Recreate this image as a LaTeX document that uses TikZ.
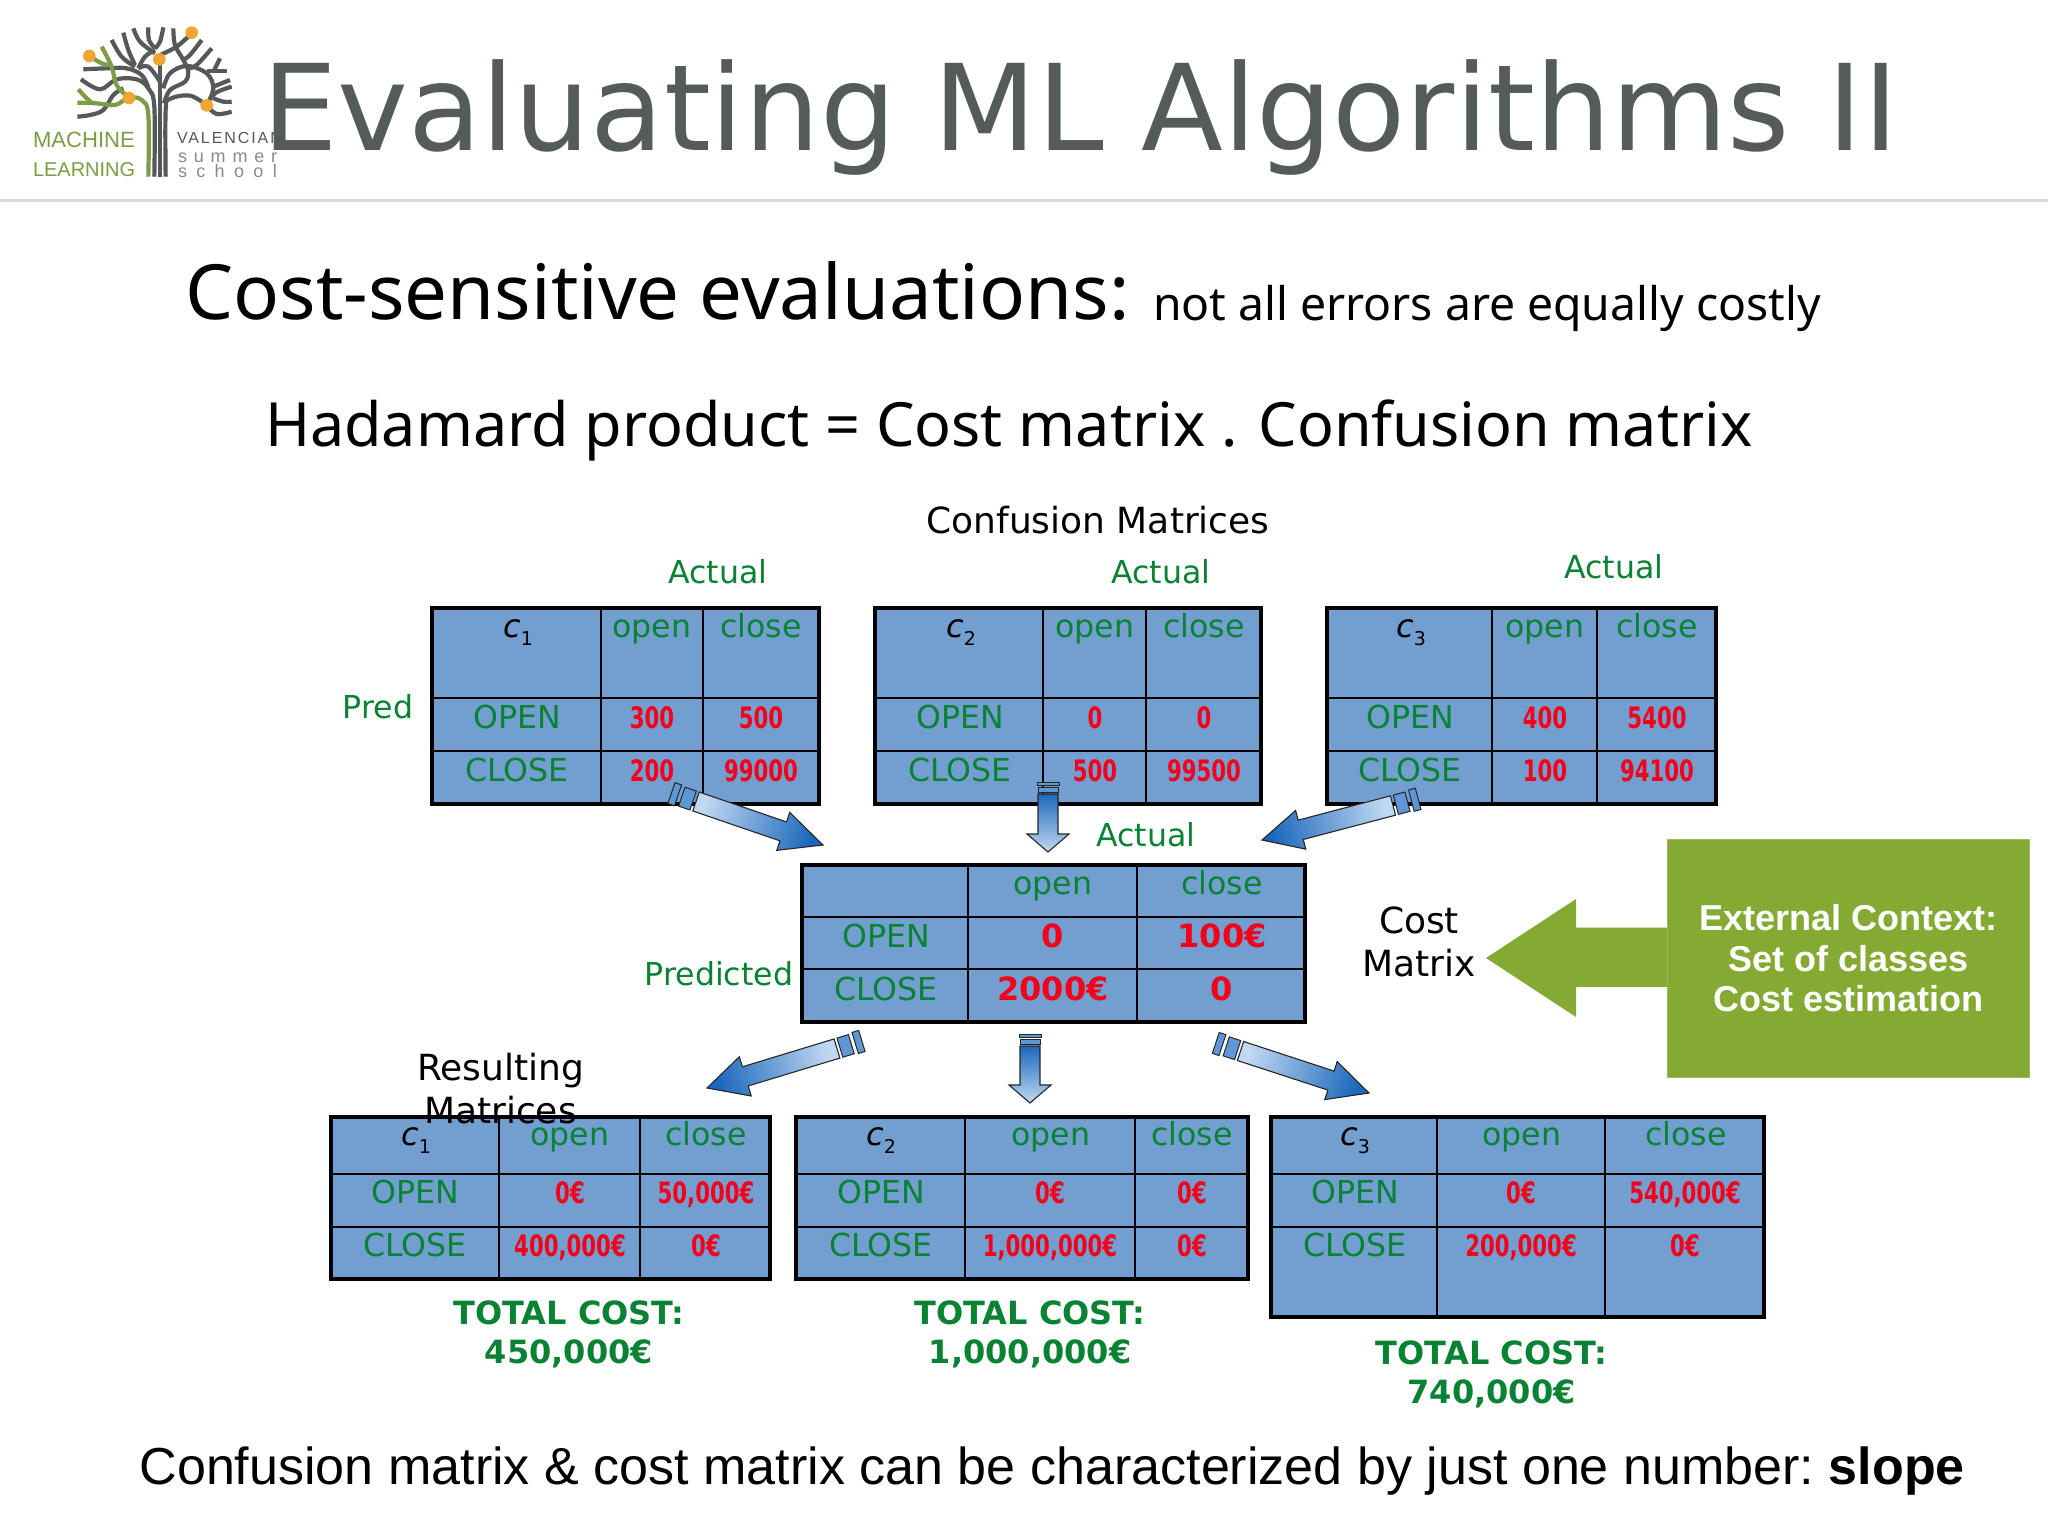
\documentclass[tikz,border=0pt]{standalone}
\usepackage{fontspec}
\usetikzlibrary{calc,shadings}
\setmainfont{DejaVu Sans}
\newfontfamily\noto{Noto Sans}
\newfontfamily\lib{Liberation Sans}
\newfontfamily\condbold[FakeStretch=0.72]{DejaVu Sans}
\newfontfamily\libA[LetterSpace=12]{Liberation Sans}
\newfontfamily\libB[LetterSpace=38]{Liberation Sans}
\newfontfamily\libC[LetterSpace=52]{Liberation Sans}
\newcommand{\fs}[2]{\fontsize{#1}{#2}\selectfont}
\definecolor{tblue}{HTML}{729FCF}
\definecolor{tgreen}{HTML}{0A8233}
\definecolor{tred}{HTML}{F5001A}
\definecolor{olive}{HTML}{84AA33}
\definecolor{titlegrey}{HTML}{555B5B}
\definecolor{lgreen}{HTML}{7C9C48}
\definecolor{ldark}{HTML}{55595A}
\definecolor{orangedot}{HTML}{F2A533}
\definecolor{adark}{HTML}{1C68BC}
\definecolor{alight}{HTML}{C0D8F1}
\definecolor{astub}{HTML}{5F97D4}
\tikzset{
  txt/.style={anchor=base,inner sep=0pt,outer sep=0pt},
  lab/.style={txt,text=tgreen,font=\fs{31.6}{38}},
  blk/.style={txt,text=black,font=\fs{36}{43}},
  redc/.style={txt,text=tred,font=\fs{29.5}{34}\condbold\bfseries},
  redb/.style={txt,text=tred,font=\fs{32}{38}\bfseries},
  total/.style={txt,text=tgreen,align=center,font=\fs{32}{39}\bfseries},
  tbl/.style={draw=black,fill=tblue,line width=4.5pt,inner sep=0pt,outer sep=0pt},
  grid/.style={draw=black,line width=2pt},
  lbr/.style={draw=ldark,line width=4.2pt},
  lgr/.style={draw=lgreen,line width=4.2pt},
  dot/.style={fill=orangedot,draw=none},
  abody/.style={draw=black!85,line width=1.1pt,line join=miter},
  astubs/.style={draw=black!85,line width=1pt,fill=astub},
}
\newcommand{\mtable}[9]{%
  \node[tbl,minimum width=#5pt-#2pt-2pt,minimum height=#9pt-#6pt-2pt] (#1) at ({(#2+#5)/2},{(#6+#9)/2}) {};
  \draw[grid] (#3,#6) -- (#3,#9) (#4,#6) -- (#4,#9) (#2,#7) -- (#5,#7) (#2,#8) -- (#5,#8);
}
\newcommand{\headtext}[6]{%
  \node[txt,font=\fs{32}{38}] (#1-c) at (#3,#2) {\itshape c\upshape\raisebox{-8pt}{\fs{19}{19}#4}};
  \node[lab] (#1-open) at (#5,#2) {open};
  \node[lab] (#1-close) at (#6,#2) {close};
}
\newcommand{\rowtext}[9]{%
  \node[lab] (#1-l) at (#3,#2) {#4};
  \node[#9] (#1-a) at (#5,#2) {#6};
  \node[#9] (#1-b) at (#7,#2) {#8};
}
% tail, tip, head length, head half width, shading angle, stub factor
\newcommand{\gradarrow}[6]{%
  \coordinate (ab) at ($(#2)!#3pt!(#1)$);
  \path[abody,bottom color=alight,top color=adark,shading angle=#5]
    ($(#1)!10pt!90:(#2)$) -- ($(ab)!10pt!90:(#2)$) -- ($(ab)!#4pt!90:(#2)$) -- (#2)
    -- ($(ab)!#4pt!-90:(#2)$) -- ($(ab)!10pt!-90:(#2)$) -- ($(#1)!10pt!-90:(#2)$) -- cycle;
  \coordinate (s1) at ($(#1)!-#6*3pt!(#2)$);
  \coordinate (s2) at ($(#1)!-#6*15pt!(#2)$);
  \coordinate (s3) at ($(#1)!-#6*19pt!(#2)$);
  \coordinate (s4) at ($(#1)!-#6*26pt!(#2)$);
  \path[astubs] ($(s1)!10pt!90:(#2)$) -- ($(s2)!10pt!90:(#2)$) -- ($(s2)!10pt!-90:(#2)$) -- ($(s1)!10pt!-90:(#2)$) -- cycle;
  \path[astubs] ($(s3)!11pt!90:(#2)$) -- ($(s4)!11pt!90:(#2)$) -- ($(s4)!11pt!-90:(#2)$) -- ($(s3)!11pt!-90:(#2)$) -- cycle;
}
\newcommand{\br}[2][lbr]{\draw[#1] plot[smooth,tension=.6] coordinates {#2};}
\begin{document}
\begin{tikzpicture}[x=1pt,y=-1pt]
\useasboundingbox (0,0) rectangle (2048,1536);
\fill[white] (0,0) rectangle (2048,1536);
% logo
\begin{scope}[scale=1/3]
  \br{(463,530)(463,320)(445,265)(410,238)(350,238)(300,268)(243,238)}
  \br{(480,530)(480,180)}
  \br{(497,530)(497,330)(510,297)(570,287)(620,316)}
  \br{(445,262)(425,225)(380,205)(320,205)(250,208)}
  \br{(370,265)(340,285)(310,330)(270,345)(232,350)}
  \br{(480,245)(445,200)(415,205)}
  \br{(415,205)(435,170)(465,150)}
  \br{(400,85)(420,125)(465,160)}
  \br{(445,82)(447,120)(465,145)}
  \br{(490,82)(480,125)(465,145)}
  \br{(370,98)(385,150)(405,195)}
  \br{(335,120)(365,170)(405,200)}
  \br{(480,165)(530,140)(575,100)}
  \br{(520,85)(525,135)(550,180)(565,215)(555,245)(510,270)(492,310)}
  \br{(605,120)(570,165)(548,180)}
  \br{(635,145)(590,195)(565,205)}
  \br{(490,265)(510,220)(560,198)(620,220)(640,265)(620,316)}
  \br{(660,175)(640,215)}
  \br{(680,213)(620,213)}
  \br{(640,260)(690,240)}
  \br{(620,316)(645,280)(695,260)}
  \br{(640,295)(670,305)(695,305)}
  \br{(620,316)(650,342)(695,335)}
  \br[lgr]{(445,530)(445,345)(425,300)(387,293)(345,315)(290,310)(232,308)}
  \br[lgr]{(275,308)(255,290)(235,268)}
  \br[lgr]{(387,295)(350,255)(335,200)(305,140)}
  \br[lgr]{(330,195)(305,190)(268,168)}
  \fill[dot] (268,168) circle (19);
  \fill[dot] (478,178) circle (19);
  \fill[dot] (575,98) circle (19);
  \fill[dot] (387,294) circle (19);
  \fill[dot] (620,316) circle (19);
\end{scope}
\node[txt,anchor=base west,text=lgreen,font=\fs{22.1}{25}\lib] (lm) at (33,148) {MACHINE};
\node[txt,anchor=base west,text=lgreen,font=\fs{20}{25}\lib] (ll) at (33,176.5) {LEARNING};
\node[txt,anchor=base west,text=ldark,font=\fs{16}{19}\libA] (lv) at (177,144) {VALENCIAN};
\node[txt,anchor=base west,text=ldark!70,font=\fs{18}{21}\libB] (ls) at (178,162) {summer};
\node[txt,anchor=base west,text=ldark!70,font=\fs{18}{21}\libC] (lc) at (178,177) {school};
% header
\node[txt,anchor=base west,text=titlegrey,font=\fs{119.6}{130}] (title) at (262,150.5) {Evaluating ML Algorithms II};
\draw[draw=black!15,line width=2.5pt] (0,200.5) -- (2048,200.5);
\node[txt,anchor=base west,font=\fs{76.2}{80}\noto] (sub) at (185.5,319) {Cost-sensitive evaluations:};
\node[txt,anchor=base west,font=\fs{46.3}{54}\noto] (sub2) at (1153,320) {not all errors are equally costly};
\node[txt,anchor=base west,font=\fs{61}{70}\noto] (had) at (265,446) {Hadamard product = Cost matrix . Confusion matrix};
\node[blk] (conf) at (1098,533) {Confusion Matrices};
% confusion matrices
\node[lab] (act1) at (718,583) {Actual};
\node[lab] (act2) at (1161,583) {Actual};
\node[lab] (act3) at (1614,578) {Actual};
\node[lab] (pred) at (378,718) {Pred};
\mtable{T1}{431}{600.5}{702.5}{820}{607}{698}{751}{805}
\headtext{T1}{637}{518}{1}{652}{761}
\rowtext{T1o}{728.5}{517}{OPEN}{652}{300}{761}{500}{redc}
\rowtext{T1c}{781}{517}{CLOSE}{652}{200}{761}{99000}{redc}
\mtable{T2}{874}{1043}{1146}{1262}{607}{698}{751}{805}
\headtext{T2}{637}{961}{2}{1095}{1204}
\rowtext{T2o}{728.5}{960}{OPEN}{1095}{0}{1204}{0}{redc}
\rowtext{T2c}{781}{960}{CLOSE}{1095}{500}{1204}{99500}{redc}
\mtable{T3}{1326}{1492}{1597}{1717}{607}{698}{751}{805}
\headtext{T3}{637}{1411}{3}{1545}{1657}
\rowtext{T3o}{728.5}{1410}{OPEN}{1545}{400}{1657}{5400}{redc}
\rowtext{T3c}{781}{1410}{CLOSE}{1545}{100}{1657}{94100}{redc}
% cost matrix
\node[lab] (act4) at (1146,846) {Actual};
\node[lab] (predd) at (719,985) {Predicted};
\mtable{C}{801}{968}{1137}{1306}{864}{917}{969}{1023}
\node[lab] (C-open) at (1053,894) {open};
\node[lab] (C-close) at (1222,894) {close};
\rowtext{Co}{947.5}{886}{OPEN}{1053}{0}{1222}{100€}{redb}
\rowtext{Cc}{1000}{886}{CLOSE}{1053}{2000€}{1222}{0}{redb}
\node[blk,align=center,anchor=center] (cm) at (1419,942) {Cost\\Matrix};
% context
\node[fill=olive,draw=olive!80!white,line width=1pt,inner sep=0pt,minimum width=362pt,minimum height=238pt,align=center,text=white,font=\fs{36}{40.5}\lib\bfseries] (ctx) at (1848.5,958.5) {External Context:\\Set of classes\\Cost estimation};
\coordinate (ctxtip) at (1486,958);
\fill[olive] (ctx.west |- 0,927.5) -- (1576,927.5) -- (1576,899) -- (ctxtip) -- (1576,1017) -- (1576,987) -- (ctx.west |- 0,987) -- cycle;
% result matrices
\mtable{R1}{330}{499}{640}{771}{1116}{1174}{1227}{1280}
\headtext{R1}{1145}{416}{1}{570}{706}
\rowtext{R1o}{1203.5}{415}{OPEN}{570}{0€}{706}{50,000€}{redc}
\rowtext{R1c}{1256.5}{415}{CLOSE}{570}{400,000€}{706}{0€}{redc}
\mtable{R2}{795}{965}{1135}{1249}{1116}{1174}{1227}{1280}
\headtext{R2}{1145}{881}{2}{1051}{1192}
\rowtext{R2o}{1203.5}{881}{OPEN}{1050}{0€}{1192}{0€}{redc}
\rowtext{R2c}{1256.5}{881}{CLOSE}{1050}{1,000,000€}{1192}{0€}{redc}
\mtable{R3}{1270}{1437}{1605}{1765}{1116}{1174}{1227}{1318}
\headtext{R3}{1145}{1355}{3}{1522}{1686}
\rowtext{R3o}{1203.5}{1355}{OPEN}{1521}{0€}{1685}{540,000€}{redc}
\rowtext{R3c}{1256.5}{1355}{CLOSE}{1521}{200,000€}{1685}{0€}{redc}
\node[blk,align=center] (resm) at (500.5,1123) {Resulting\\Matrices};
\node[total] (tot1) at (569,1363) {TOTAL COST:\\450,000€};
\node[total] (tot2) at (1030,1363) {TOTAL COST:\\1,000,000€};
\node[total] (tot3) at (1491.5,1403.5) {TOTAL COST:\\740,000€};
% arrows
\coordinate (a1s) at (696,801.5);  \coordinate (a1e) at (823,845);
\coordinate (a2s) at (1048,794);   \coordinate (a2e) at (1048,852);
\coordinate (a3s) at (1393,805.5); \coordinate (a3e) at (1262,840);
\coordinate (a4s) at (837,1048.5); \coordinate (a4e) at (707,1088);
\coordinate (a5s) at (1030,1046);  \coordinate (a5e) at (1030,1103);
\coordinate (a6s) at (1240.5,1051);\coordinate (a6e) at (1369,1093);
\gradarrow{a1s}{a1e}{42}{20}{-109}{1}
\gradarrow{a2s}{a2e}{18}{21}{0}{.45}
\gradarrow{a3s}{a3e}{40}{20}{105}{1}
\gradarrow{a4s}{a4e}{40}{20.5}{107}{1}
\gradarrow{a5s}{a5e}{18}{21}{0}{.45}
\gradarrow{a6s}{a6e}{40}{20}{-108}{1}
% footer
\node[txt,anchor=base west,font=\fs{52.05}{58}\lib] (foot) at (139.5,1484) {Confusion matrix \& cost matrix can be characterized by just one number:\hspace{-5pt} \textbf{slope}};
\end{tikzpicture}
\end{document}
